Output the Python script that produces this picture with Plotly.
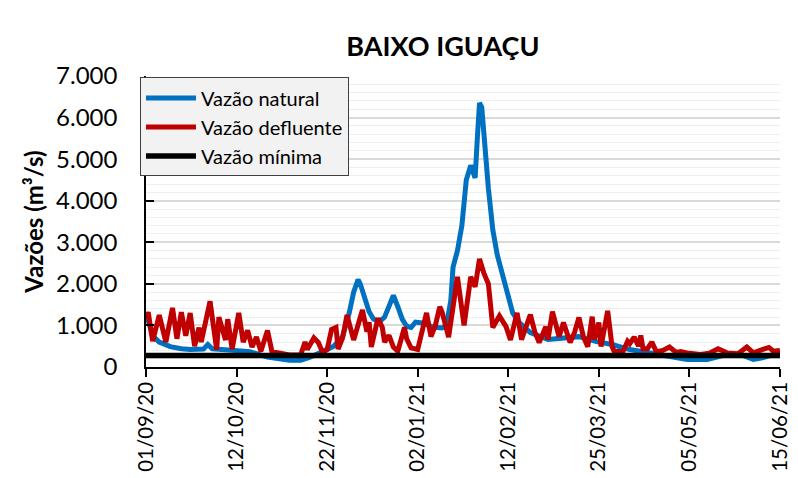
import pandas as pd
import plotly.graph_objects as go

START = "2020-09-01"

# Vazão natural (day offset from 01/09/20, m³/s)
natural_days = [0, 1, 3, 6, 11, 16, 20, 26, 28, 30, 37, 47, 55, 61, 65, 70, 74, 80, 85, 89, 92, 94, 96, 97, 99,
                101, 103, 106, 108, 110, 112, 114, 116, 118, 120, 122, 125, 130, 134, 136, 138, 139, 141, 143,
                145, 147, 148, 149, 150, 151, 152, 153, 154, 155, 156, 157, 159, 161, 163, 166, 169, 174, 182,
                189, 196, 204, 211, 219, 227, 236, 245, 254, 263, 269, 275, 279, 287]
natural_vals = [1300, 1100, 750, 600, 490, 440, 420, 430, 540, 440, 420, 370, 240, 180, 160, 165, 230, 370, 500, 730,
                1300, 1800, 2100, 2000, 1650, 1330, 1150, 1100, 1200, 1500, 1720, 1450, 1150, 980, 950, 1080, 1060,
                960, 940, 1000, 1600, 2400, 2800, 3400, 4500, 4850, 4700, 4550, 5500, 6350, 6250, 5500, 4900,
                4300, 3800, 3300, 2700, 2300, 1800, 1300, 1070, 830, 660, 710, 730, 610, 540, 420, 350, 250,
                180, 180, 300, 300, 180, 220, 340]

# Vazão defluente
defl_days = [0, 1, 3, 6, 9, 12, 14, 16, 18, 20, 22, 24, 25, 29, 32, 33, 36, 37, 39, 42, 44, 46, 48, 50, 52, 55, 57,
             61, 65, 70, 72, 73, 76, 78, 80, 82, 84, 86, 87, 89, 91, 94, 98, 100, 101, 102, 105, 107, 108, 110, 112,
             114, 117, 118, 120, 123, 125, 127, 129, 131, 133, 134, 137, 141, 144, 147, 149, 151, 153, 155, 157,
             160, 163, 165, 168, 169, 170, 174, 176, 178, 181, 182, 184, 187, 189, 192, 194, 196, 198, 200, 202,
             203, 205, 206, 209, 211, 212, 216, 218, 219, 221, 223, 224, 225, 227, 229, 231, 234, 237, 240, 242,
             245, 251, 255, 259, 263, 268, 272, 275, 279, 282, 284, 287]
defl_vals = [1150, 1320, 620, 1250, 600, 1420, 680, 1320, 750, 1300, 500, 950, 600, 1580, 420, 1200, 650, 1150, 430,
             1300, 600, 880, 480, 720, 380, 880, 370, 330, 290, 290, 600, 420, 700, 590, 350, 420, 900, 950, 430,
             700, 1250, 650, 1370, 850, 1080, 480, 1170, 950, 600, 760, 480, 380, 950, 680, 460, 420, 900, 1300,
             730, 1000, 1450, 1330, 720, 2170, 1000, 2170, 1930, 2600, 2250, 2000, 950, 1230, 970, 650, 1300, 970,
             660, 1260, 850, 590, 970, 660, 1330, 730, 1070, 590, 830, 1190, 730, 490, 1210, 660, 1070, 490, 1350,
             490, 370, 380, 620, 560, 720, 500, 760, 440, 440, 600, 370, 400, 480, 350, 370, 340, 300, 330, 440,
             340, 320, 480, 340, 420, 470, 380, 400]

# Vazão mínima
min_days = [0, 287]
min_vals = [275, 275]

tick_dates = ["2020-09-01", "2020-10-12", "2020-11-22", "2021-01-02", "2021-02-12", "2021-03-25", "2021-05-05",
              "2021-06-15"]
tick_labels = ["01/09/20", "12/10/20", "22/11/20", "02/01/21", "12/02/21", "25/03/21", "05/05/21", "15/06/21"]


def to_dates(days):
    return pd.Timestamp(START) + pd.to_timedelta(days, unit="D")


FONT = "Lato"

fig = go.Figure()
fig.add_trace(go.Scatter(x=to_dates(natural_days), y=natural_vals, mode="lines", name="Vazão natural",
                         line=dict(color="#0070C0", width=5)))
fig.add_trace(go.Scatter(x=to_dates(defl_days), y=defl_vals, mode="lines", name="Vazão defluente",
                         line=dict(color="#C00000", width=5)))
fig.add_trace(go.Scatter(x=to_dates(min_days), y=min_vals, mode="lines", name="Vazão mínima",
                         line=dict(color="#000000", width=5.5)))

fig.update_layout(
    width=798, height=478,
    margin=dict(l=146, r=18, t=75.5, b=110.5),
    paper_bgcolor="white", plot_bgcolor="white",
    separators=",.",
    font=dict(family=FONT, color="#000000"),
    title=dict(text="<b>BAIXO IGUAÇU</b>", x=0.555, xanchor="center", y=0.902, yanchor="middle",
               font=dict(size=27, family=FONT, color="#000000")),
    showlegend=True,
    legend=dict(x=-0.0095, y=0.995, xanchor="left", yanchor="top", bgcolor="#F2F2F2",
                bordercolor="#404040", borderwidth=1, font=dict(size=20, family=FONT, color="#000000"),
                itemwidth=50),
    xaxis=dict(type="date", range=["2020-09-01", "2021-06-15 00:30"], automargin=False,
               tickvals=tick_dates, ticktext=tick_labels, tickangle=-90, ticklabeloverflow="allow",
               ticklabelstandoff=-3,
               tickfont=dict(size=20.5, family=FONT), showgrid=False, showline=True, linecolor="#000000",
               linewidth=1.5, ticks="outside", ticklen=8, tickcolor="#000000", tickwidth=1.5, zeroline=False),
    yaxis=dict(range=[0, 7000], dtick=1000, tickformat=",d", tickfont=dict(size=24, family=FONT),
               automargin=False,
               showgrid=True, gridcolor="#D9D9D9", gridwidth=1.5,
               minor=dict(dtick=200, showgrid=True, gridcolor="#EFEFEF", gridwidth=1),
               showline=True, linecolor="#000000", linewidth=1.5, ticks="inside", ticklen=8,
               tickcolor="#000000", tickwidth=1.5, ticklabelstandoff=22, zeroline=False,
               title=dict(text="<b>Vazões (m³/s)</b>", font=dict(size=24, family=FONT), standoff=6)),
)

fig.write_html("out.html", config={"displayModeBar": False},
               post_script="document.body.style.margin='0';document.body.style.overflow='hidden';")
